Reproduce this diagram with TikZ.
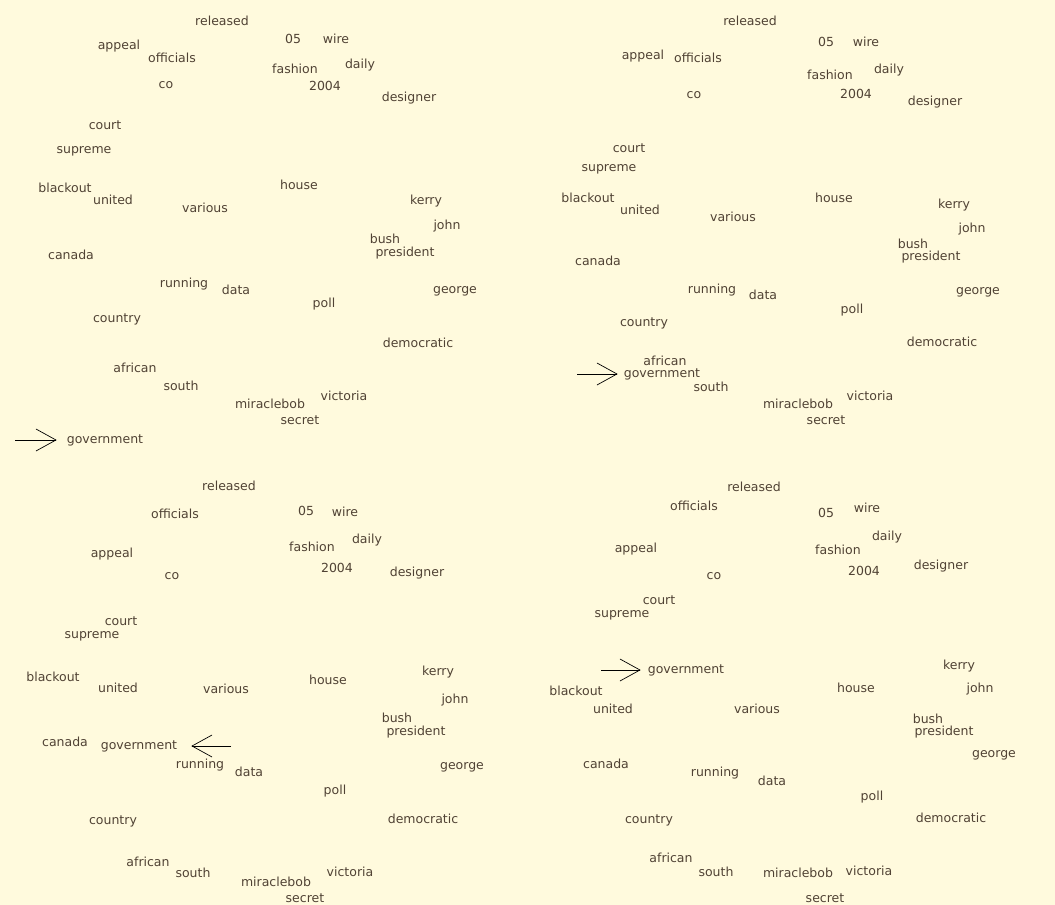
\documentclass[tikz,border=0pt]{standalone}
\usepackage{fontspec}
\setmainfont{DejaVu Sans}
\usetikzlibrary{arrows.meta}
\definecolor{paper}{RGB}{255,250,221}
\definecolor{ink}{RGB}{80,66,52}
\begin{document}
\begin{tikzpicture}[x=1pt,y=-1pt,>={Straight Barb[length=20pt,width=22pt]},
  word/.style={font=\fontsize{12.5}{14}\selectfont, text=ink, inner sep=2pt, text height=1.5ex, text depth=.25ex},
  pointer/.style={->, line width=0.7pt}]
  \useasboundingbox (0,0) rectangle (1055,905);
  \fill[paper] (0,0) rectangle (1055,905);
  % top left
  \node[word] (released-a) at (222,22) {released};
  \node[word] (05-a) at (293,40) {05};
  \node[word] (wire-a) at (336,40) {wire};
  \node[word] (appeal-a) at (119,46) {appeal};
  \node[word] (officials-a) at (172,59) {officials};
  \node[word] (fashion-a) at (295,70) {fashion};
  \node[word] (daily-a) at (360,65) {daily};
  \node[word] (co-a) at (166,85) {co};
  \node[word] (2004-a) at (325,87) {2004};
  \node[word] (designer-a) at (409,98) {designer};
  \node[word] (court-a) at (105,126) {court};
  \node[word] (supreme-a) at (84,150) {supreme};
  \node[word] (blackout-a) at (65,189) {blackout};
  \node[word] (united-a) at (113,201) {united};
  \node[word] (various-a) at (205,209) {various};
  \node[word] (house-a) at (299,186) {house};
  \node[word] (kerry-a) at (426,201) {kerry};
  \node[word] (john-a) at (447,226) {john};
  \node[word] (bush-a) at (385,240) {bush};
  \node[word] (president-a) at (405,253) {president};
  \node[word] (canada-a) at (71,256) {canada};
  \node[word] (running-a) at (184,284) {running};
  \node[word] (data-a) at (236,291) {data};
  \node[word] (george-a) at (455,290) {george};
  \node[word] (poll-a) at (324,304) {poll};
  \node[word] (country-a) at (117,319) {country};
  \node[word] (democratic-a) at (418,344) {democratic};
  \node[word] (african-a) at (135,369) {african};
  \node[word] (south-a) at (181,387) {south};
  \node[word] (miraclebob-a) at (270,405) {miraclebob};
  \node[word] (victoria-a) at (344,397) {victoria};
  \node[word] (secret-a) at (300,421) {secret};
  \node[word] (government-a) at (105,440) {government};
  \coordinate (tail-a) at (15,440);
  \draw[pointer, shorten >=8pt] (tail-a) -- (government-a.west);
  % top right
  \node[word] (released-b) at (750,22) {released};
  \node[word] (05-b) at (826,43) {05};
  \node[word] (wire-b) at (866,43) {wire};
  \node[word] (appeal-b) at (643,56) {appeal};
  \node[word] (officials-b) at (698,59) {officials};
  \node[word] (fashion-b) at (830,76) {fashion};
  \node[word] (daily-b) at (889,70) {daily};
  \node[word] (co-b) at (694,95) {co};
  \node[word] (2004-b) at (856,95) {2004};
  \node[word] (designer-b) at (935,102) {designer};
  \node[word] (court-b) at (629,149) {court};
  \node[word] (supreme-b) at (609,168) {supreme};
  \node[word] (blackout-b) at (588,199) {blackout};
  \node[word] (united-b) at (640,211) {united};
  \node[word] (various-b) at (733,218) {various};
  \node[word] (house-b) at (834,199) {house};
  \node[word] (kerry-b) at (954,205) {kerry};
  \node[word] (john-b) at (972,229) {john};
  \node[word] (bush-b) at (913,245) {bush};
  \node[word] (president-b) at (931,257) {president};
  \node[word] (canada-b) at (598,262) {canada};
  \node[word] (running-b) at (712,290) {running};
  \node[word] (data-b) at (763,296) {data};
  \node[word] (george-b) at (978,291) {george};
  \node[word] (poll-b) at (852,310) {poll};
  \node[word] (country-b) at (644,323) {country};
  \node[word] (democratic-b) at (942,343) {democratic};
  \node[word] (african-b) at (665,362) {african};
  \node[word] (south-b) at (711,388) {south};
  \node[word] (miraclebob-b) at (798,405) {miraclebob};
  \node[word] (victoria-b) at (870,397) {victoria};
  \node[word] (secret-b) at (826,421) {secret};
  \node[word] (government-b) at (662,374) {government};
  \coordinate (tail-b) at (577,374);
  \draw[pointer, shorten >=4pt] (tail-b) -- (government-b.west);
  % bottom left
  \node[word] (released-c) at (229,487) {released};
  \node[word] (officials-c) at (175,515) {officials};
  \node[word] (05-c) at (306,512) {05};
  \node[word] (wire-c) at (345,513) {wire};
  \node[word] (fashion-c) at (312,548) {fashion};
  \node[word] (daily-c) at (367,540) {daily};
  \node[word] (appeal-c) at (112,554) {appeal};
  \node[word] (co-c) at (172,576) {co};
  \node[word] (2004-c) at (337,569) {2004};
  \node[word] (designer-c) at (417,573) {designer};
  \node[word] (court-c) at (121,622) {court};
  \node[word] (supreme-c) at (92,635) {supreme};
  \node[word] (blackout-c) at (53,678) {blackout};
  \node[word] (united-c) at (118,689) {united};
  \node[word] (various-c) at (226,690) {various};
  \node[word] (house-c) at (328,681) {house};
  \node[word] (kerry-c) at (438,672) {kerry};
  \node[word] (john-c) at (455,700) {john};
  \node[word] (bush-c) at (397,719) {bush};
  \node[word] (president-c) at (416,732) {president};
  \node[word] (canada-c) at (65,743) {canada};
  \node[word] (running-c) at (200,765) {running};
  \node[word] (data-c) at (249,773) {data};
  \node[word] (george-c) at (462,766) {george};
  \node[word] (poll-c) at (335,791) {poll};
  \node[word] (country-c) at (113,821) {country};
  \node[word] (democratic-c) at (423,820) {democratic};
  \node[word] (african-c) at (148,863) {african};
  \node[word] (south-c) at (193,874) {south};
  \node[word] (miraclebob-c) at (276,883) {miraclebob};
  \node[word] (victoria-c) at (350,873) {victoria};
  \node[word] (secret-c) at (305,899) {secret};
  \node[word] (government-c) at (139,746) {government};
  \coordinate (tail-c) at (231,746);
  \draw[pointer, shorten >=12pt] (tail-c) -- (government-c.east);
  % bottom right
  \node[word] (released-d) at (754,488) {released};
  \node[word] (officials-d) at (694,507) {officials};
  \node[word] (05-d) at (826,514) {05};
  \node[word] (wire-d) at (867,509) {wire};
  \node[word] (daily-d) at (887,537) {daily};
  \node[word] (appeal-d) at (636,549) {appeal};
  \node[word] (fashion-d) at (838,551) {fashion};
  \node[word] (designer-d) at (941,566) {designer};
  \node[word] (co-d) at (714,576) {co};
  \node[word] (2004-d) at (864,572) {2004};
  \node[word] (court-d) at (659,601) {court};
  \node[word] (supreme-d) at (622,614) {supreme};
  \node[word] (kerry-d) at (959,666) {kerry};
  \node[word] (blackout-d) at (576,692) {blackout};
  \node[word] (house-d) at (856,689) {house};
  \node[word] (john-d) at (980,689) {john};
  \node[word] (united-d) at (613,710) {united};
  \node[word] (various-d) at (757,710) {various};
  \node[word] (bush-d) at (928,720) {bush};
  \node[word] (president-d) at (944,732) {president};
  \node[word] (george-d) at (994,754) {george};
  \node[word] (canada-d) at (606,765) {canada};
  \node[word] (running-d) at (715,773) {running};
  \node[word] (data-d) at (772,782) {data};
  \node[word] (poll-d) at (872,797) {poll};
  \node[word] (country-d) at (649,820) {country};
  \node[word] (democratic-d) at (951,819) {democratic};
  \node[word] (african-d) at (671,859) {african};
  \node[word] (south-d) at (716,873) {south};
  \node[word] (miraclebob-d) at (798,874) {miraclebob};
  \node[word] (victoria-d) at (869,872) {victoria};
  \node[word] (secret-d) at (825,899) {secret};
  \node[word] (government-d) at (686,670) {government};
  \coordinate (tail-d) at (601,670);
  \draw[pointer, shorten >=5pt] (tail-d) -- (government-d.west);
\end{tikzpicture}
\end{document}
